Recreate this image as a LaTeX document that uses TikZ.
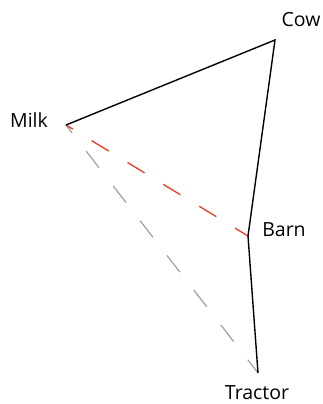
\documentclass[tikz,border=0pt]{standalone}
\usepackage{fontspec}
\setmainfont{Open Sans}
\begin{document}
\begin{tikzpicture}[x=1pt,y=-1pt,
  lbl/.style={anchor=base,inner sep=0pt,font=\fontsize{19.5}{22}\selectfont},
  edge/.style={line width=1.4pt,black},
  reddash/.style={line width=1.3pt,draw={rgb,255:red,235;green,60;blue,35},dash pattern=on 20pt off 22pt,dash phase=12pt},
  graydash/.style={line width=1.2pt,draw={rgb,255:red,160;green,160;blue,160},dash pattern=on 21pt off 23pt,dash phase=11pt}]
\useasboundingbox (0,0) rectangle (322,404);
\coordinate (cow) at (275,40);
\coordinate (milk) at (66,125);
\coordinate (barn) at (248,236);
\coordinate (tractor) at (258,373);
\node[lbl] (cowl) at (301,27) {Cow};
\node[lbl] (milkl) at (29,127) {Milk};
\node[lbl] (barnl) at (284,236) {Barn};
\node[lbl] (tractorl) at (257,399) {Tractor};
\draw[graydash] (milk) -- (tractor);
\draw[reddash] (milk) -- (barn);
\draw[edge] (milk) -- (cow) -- (barn) -- (tractor);
\end{tikzpicture}
\end{document}
